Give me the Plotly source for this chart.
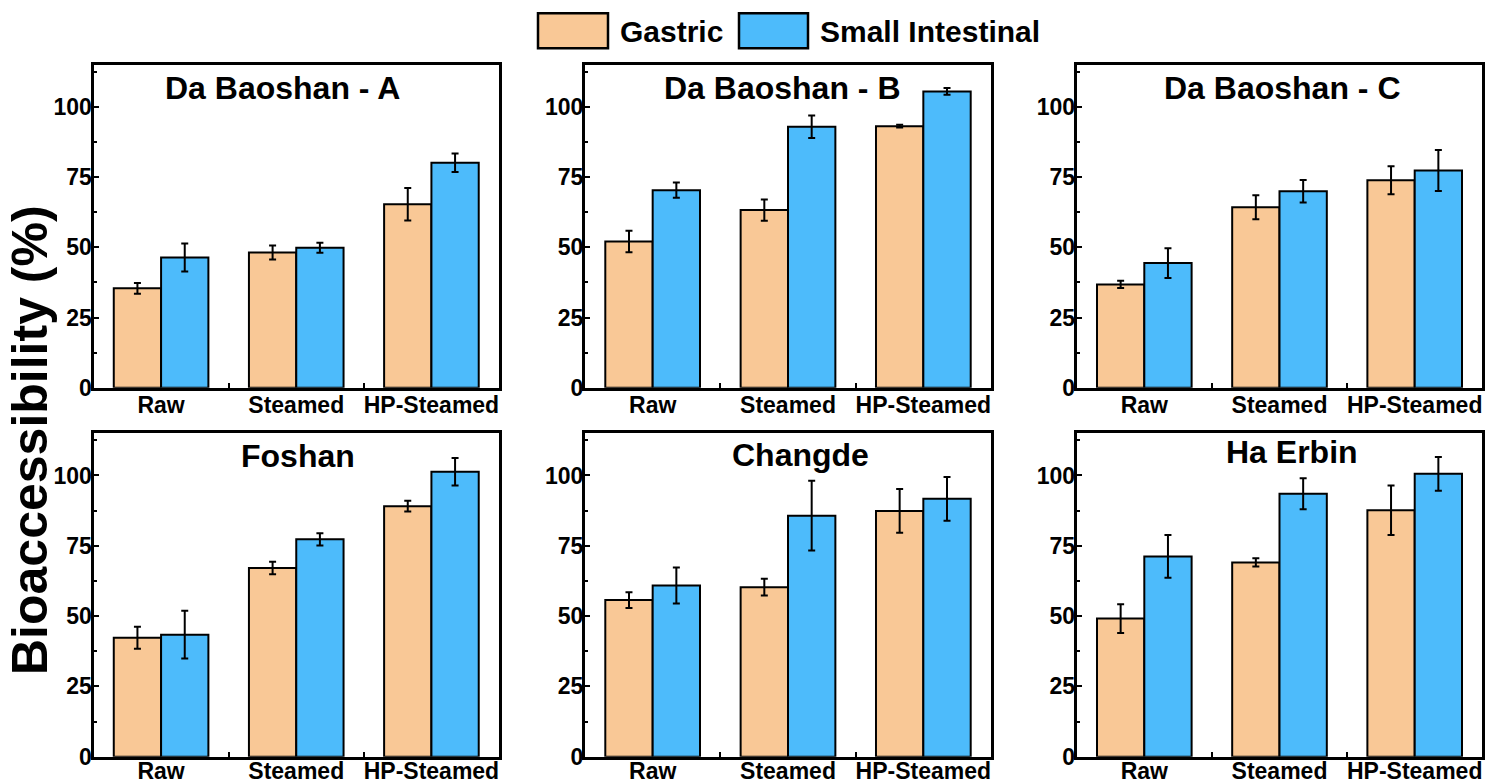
import plotly.graph_objects as go

W, H = 1487, 784

categories = ["Raw", "Steamed", "HP-Steamed"]
panel_titles = ["Da Baoshan - A", "Da Baoshan - B", "Da Baoshan - C",
                "Foshan", "Changde", "Ha Erbin"]

gastric_A = [35.4, 48.2, 65.4]
gastric_A_err = [1.9, 2.5, 5.8]
intestinal_A = [46.4, 49.9, 80.2]
intestinal_A_err = [5.0, 1.8, 3.3]

gastric_B = [52.1, 63.3, 93.2]
gastric_B_err = [3.8, 3.8, 0.5]
intestinal_B = [70.4, 93.0, 105.6]
intestinal_B_err = [2.7, 4.0, 1.2]

gastric_C = [36.8, 64.3, 73.9]
gastric_C_err = [1.3, 4.3, 5.0]
intestinal_C = [44.4, 70.0, 77.4]
intestinal_C_err = [5.3, 4.0, 7.3]

gastric_Foshan = [42.3, 67.1, 89.1]
gastric_Foshan_err = [3.9, 2.2, 1.9]
intestinal_Foshan = [43.4, 77.3, 101.3]
intestinal_Foshan_err = [8.5, 2.2, 4.9]

gastric_Changde = [55.7, 60.3, 87.4]
gastric_Changde_err = [2.8, 3.0, 7.8]
intestinal_Changde = [60.9, 85.7, 91.7]
intestinal_Changde_err = [6.4, 12.4, 7.8]

gastric_HaErbin = [49.1, 69.1, 87.6]
gastric_HaErbin_err = [5.1, 1.5, 8.8]
intestinal_HaErbin = [71.2, 93.5, 100.6]
intestinal_HaErbin_err = [7.6, 5.5, 6.0]

y_tick_vals = [0, 25, 50, 75, 100]
y_tick_text = ["0", "25", "50", "75", "100"]

panels = [
    (gastric_A, gastric_A_err, intestinal_A, intestinal_A_err),
    (gastric_B, gastric_B_err, intestinal_B, intestinal_B_err),
    (gastric_C, gastric_C_err, intestinal_C, intestinal_C_err),
    (gastric_Foshan, gastric_Foshan_err, intestinal_Foshan, intestinal_Foshan_err),
    (gastric_Changde, gastric_Changde_err, intestinal_Changde, intestinal_Changde_err),
    (gastric_HaErbin, gastric_HaErbin_err, intestinal_HaErbin, intestinal_HaErbin_err),
]

GASTRIC_COLOR = "#F9C896"
INTESTINAL_COLOR = "#4DBBFB"
FONT = "Arial, Liberation Sans, sans-serif"

col_px = [(93.5, 499.0), (585.0, 991.0), (1076.7, 1482.3)]
row_px = [(65.0, 387.7), (433.3, 756.7)]
title_pos = [(282, 88), (782, 88), (1282, 88), (298, 456), (800, 455), (1292, 452)]
x_label_standoff = [-5, -8]


def px_x(p):
    return p / W


def px_y(p):
    return 1 - p / H


fig = go.Figure()
layout_axes = {}
annotations = []

for i, (g, ge, s, se) in enumerate(panels):
    r, c = divmod(i, 3)
    n = i + 1
    xa = "x" if n == 1 else f"x{n}"
    ya = "y" if n == 1 else f"y{n}"
    err_style = dict(type="data", visible=True, color="black", thickness=2, width=3.5)
    fig.add_trace(go.Bar(
        x=categories, y=g, name="Gastric", xaxis=xa, yaxis=ya,
        marker=dict(color=GASTRIC_COLOR, line=dict(color="black", width=2)),
        error_y=dict(array=ge, **err_style), showlegend=False,
        offsetgroup="g",
    ))
    fig.add_trace(go.Bar(
        x=categories, y=s, name="Small Intestinal", xaxis=xa, yaxis=ya,
        marker=dict(color=INTESTINAL_COLOR, line=dict(color="black", width=2)),
        error_y=dict(array=se, **err_style), showlegend=False,
        offsetgroup="s",
    ))
    x0, x1 = col_px[c]
    y0, y1 = row_px[r]
    xkey = "xaxis" if n == 1 else f"xaxis{n}"
    ykey = "yaxis" if n == 1 else f"yaxis{n}"
    layout_axes[xkey] = dict(
        domain=[px_x(x0), px_x(x1)], anchor=ya, type="category",
        categoryorder="array", categoryarray=categories, range=[-0.5, 2.5],
        showline=True, linecolor="black", linewidth=3, mirror=True,
        ticks="inside", tickson="boundaries", ticklen=5, tickcolor="black", tickwidth=1.5,
        tickangle=0, automargin=False, ticklabelstandoff=x_label_standoff[r],
        tickfont=dict(family=FONT, size=23, color="black", weight="bold"),
        showgrid=False, zeroline=False, fixedrange=True,
    )
    layout_axes[ykey] = dict(
        domain=[px_y(y1), px_y(y0)], anchor=xa, range=[0, 115],
        tickvals=y_tick_vals, ticktext=y_tick_text, automargin=False,
        ticklabelstandoff=-6,
        showline=True, linecolor="black", linewidth=3, mirror=True,
        ticks="inside", ticklen=5, tickcolor="black", tickwidth=1.5,
        minor=dict(dtick=12.5, tick0=0, ticks="inside", ticklen=3, tickcolor="black", tickwidth=1.5),
        tickfont=dict(family=FONT, size=23, color="black", weight="bold"),
        showgrid=False, zeroline=False, fixedrange=True,
    )
    tx, ty = title_pos[i]
    annotations.append(dict(
        text=panel_titles[i], x=px_x(tx), y=px_y(ty), xref="paper", yref="paper",
        xanchor="center", yanchor="middle", showarrow=False,
        font=dict(family=FONT, size=32, color="black", weight="bold"),
    ))

# Y-axis title
annotations.append(dict(
    text="Bioaccessibility (%)", x=px_x(30), y=px_y(440), xref="paper", yref="paper",
    xanchor="center", yanchor="middle", textangle=-90, showarrow=False,
    font=dict(family=FONT, size=50, color="black", weight="bold"),
))

# Legend (drawn manually to match the large swatches)
shapes = []
legend_items = [("Gastric", GASTRIC_COLOR, 538, 608, 618),
                ("Small Intestinal", INTESTINAL_COLOR, 739, 808, 818)]
for label, color, sx0, sx1, tx in legend_items:
    shapes.append(dict(
        type="rect", xref="paper", yref="paper",
        x0=px_x(sx0), x1=px_x(sx1), y0=px_y(48.3), y1=px_y(13.3),
        fillcolor=color, line=dict(color="black", width=2.5),
    ))
    annotations.append(dict(
        text=label, x=px_x(tx), y=px_y(31), xref="paper", yref="paper",
        xanchor="left", yanchor="middle", showarrow=False,
        font=dict(family=FONT, size=30, color="black", weight="bold"),
    ))

fig.update_layout(
    width=W, height=H, autosize=False,
    margin=dict(l=0, r=0, t=0, b=0),
    paper_bgcolor="white", plot_bgcolor="white",
    barmode="group", bargap=0.3, bargroupgap=0,
    showlegend=False,
    annotations=annotations, shapes=shapes,
    **layout_axes,
)

fig.write_html("out.html", config={"displayModeBar": False})
